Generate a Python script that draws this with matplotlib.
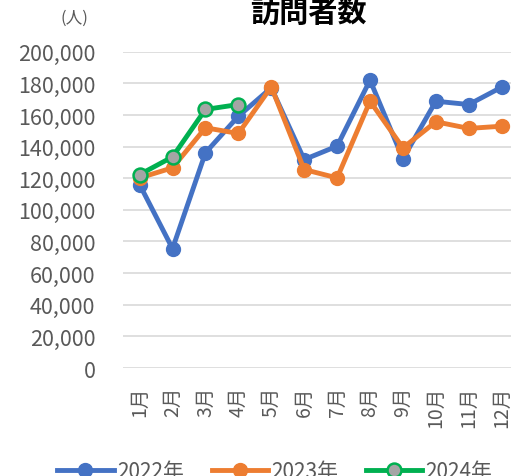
import matplotlib.pyplot as plt
from matplotlib.ticker import FuncFormatter

plt.rcParams['font.family'] = ['Noto Sans CJK JP', 'DejaVu Sans']

months = [f'{m}月' for m in range(1, 13)]
visitors_2022 = [116000, 75500, 136100, 159200, 177200, 131800, 140300, 182000, 132300, 168700, 166600, 177600]
visitors_2023 = [120200, 126600, 151900, 148300, 177800, 125500, 120200, 168700, 139200, 155700, 151500, 152900]
visitors_2024 = [122300, 133500, 163500, 166600]

fig = plt.figure(figsize=(5.11, 4.77), dpi=100)
ax = fig.add_axes([0.241, 0.2264, 0.773, 0.6631])

x = list(range(len(months)))
ax.plot(x, visitors_2022, '-o', color='#4472C4', lw=3.5, ms=10, label='2022年', zorder=3)
ax.plot(x, visitors_2023, '-o', color='#ED7D31', lw=3.5, ms=10, label='2023年', zorder=4)
ax.plot(x[:len(visitors_2024)], visitors_2024, '-o', color='#00B050', lw=3.5, ms=10,
        markerfacecolor='#A5A5A5', markeredgecolor='#00B050', markeredgewidth=1.8,
        label='2024年', zorder=5)

ax.set_xlim(-0.5, 11.5)
ax.set_ylim(0, 200000)
ax.set_yticks(range(0, 200001, 20000))
ax.yaxis.set_major_formatter(FuncFormatter(lambda v, p: f'{int(v):,}'))
ax.set_xticks(x)
ax.set_xticklabels(months, rotation=90)

ax.grid(axis='y', color='#D9D9D9', lw=1.2)
ax.set_axisbelow(True)
for s in ax.spines.values():
    s.set_visible(False)
ax.tick_params(length=0, colors='#595959')
ax.tick_params(axis='y', labelsize=15.5, pad=20)
ax.tick_params(axis='x', labelsize=14, pad=13)

fig.text(0.603, 0.972, '訪問者数', ha='center', va='center', fontsize=21, fontweight='bold')
fig.text(0.145, 0.962, '(人)', ha='center', va='center', fontsize=12, color='#595959')

fig.legend(loc='center', bbox_to_anchor=(0.538, 0.0105), ncol=3, frameon=False,
           fontsize=15, handlelength=2.7, columnspacing=1.35, handletextpad=0.15,
           labelcolor='#595959')

fig.savefig('out.png', dpi=100)
